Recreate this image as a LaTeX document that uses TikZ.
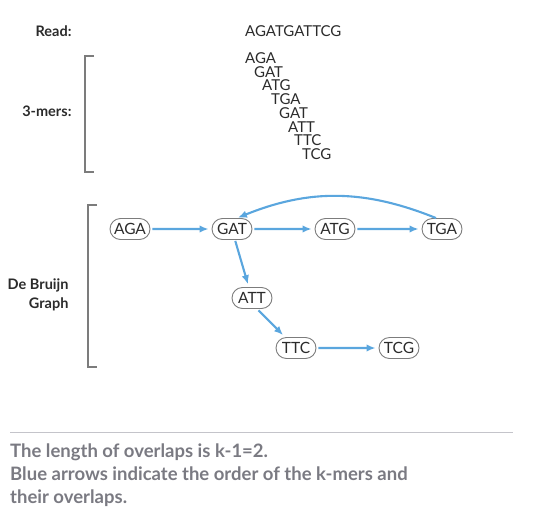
\documentclass[tikz,border=0pt]{standalone}
\usepackage{fontspec}
\setmainfont{Lato}
\usepackage{tikz}
\usetikzlibrary{arrows.meta,positioning,shapes.misc}
\definecolor{ink}{HTML}{2B2B2B}
\definecolor{muted}{HTML}{7A7A82}
\definecolor{rim}{HTML}{7C7C7C}
\definecolor{arrowblue}{HTML}{5AA6DE}
\definecolor{rule}{HTML}{C4C4CA}

\tikzset{
  kmer/.style={rounded rectangle,draw=rim,line width=0.9pt,text=ink,
    minimum width=46pt,minimum height=21pt,inner xsep=3pt,inner ysep=0pt,
    font=\fontsize{15.5}{16}\selectfont},
  link/.style={-{Latex[length=9pt,width=7.5pt]},arrowblue,line width=2.1pt,
    shorten <=2pt,shorten >=3pt},
  rowlabel/.style={anchor=east,text=ink,font=\fontsize{14.5}{19}\selectfont\bfseries,align=right},
  seq/.style={anchor=west,text=ink,inner sep=0pt,font=\fontsize{15}{16}\selectfont},
  bracket/.style={rim,line width=1.8pt}
}

\begin{document}
\begin{tikzpicture}[x=1pt,y=-1pt,>=Latex]
  \useasboundingbox (0,0) rectangle (545,527);

  % read
  \node[rowlabel] (readlbl) at (75,31) {Read:};
  \node[seq] (read) at (245,31) {AGATGATTCG};

  % 3-mers
  \node[rowlabel] (merlbl) at (75,111) {3-mers:};
  \draw[bracket] (94,56) -- (85,56) -- (85,172) -- (94,172);
  \foreach \m/\x [count=\i] in {AGA/245,GAT/254,ATG/262,TGA/271,GAT/279,ATT/288,TTC/294,TCG/302}
    \node[seq] (mer\i) at (\x,{44.5+13.7*\i}) {\m};

  % de Bruijn graph
  \node[rowlabel] (dbglbl) at (72,295) {De Bruijn\\Graph};
  \draw[bracket] (97,205) -- (88,205) -- (88,367) -- (97,367);

  \node[kmer] (aga) at (130,229) {AGA};
  \node[kmer] (gat) at (232,229) {GAT};
  \node[kmer] (atg) at (335,229) {ATG};
  \node[kmer] (tga) at (442,229) {TGA};
  \node[kmer] (att) at (252,298) {ATT};
  \node[kmer] (ttc) at (296,348) {TTC};
  \node[kmer] (tcg) at (399,348) {TCG};

  \draw[link] (aga) -- (gat);
  \draw[link] (gat) -- (atg);
  \draw[link] (atg) -- (tga);
  \draw[link,shorten <=0pt,shorten >=1pt] ([xshift=-6pt]tga.north) to[bend right=22] ([xshift=5pt]gat.north);
  \draw[link,shorten <=1pt] ([xshift=3pt]gat.south) -- (att);
  \draw[link] ([xshift=5pt]att.south) -- (ttc);
  \draw[link] (ttc) -- (tcg);

  % caption
  \draw[rule,line width=0.9pt] (10,432) -- (513,432);
  \node[anchor=north west,inner sep=0pt,text=muted,align=left,
    font=\fontsize{18.5}{23}\selectfont\bfseries] (caption) at (10,444)
    {The length of overlaps is k-1=2.\\
     Blue arrows indicate the order of the k-mers and\\
     their overlaps.};
\end{tikzpicture}
\end{document}
